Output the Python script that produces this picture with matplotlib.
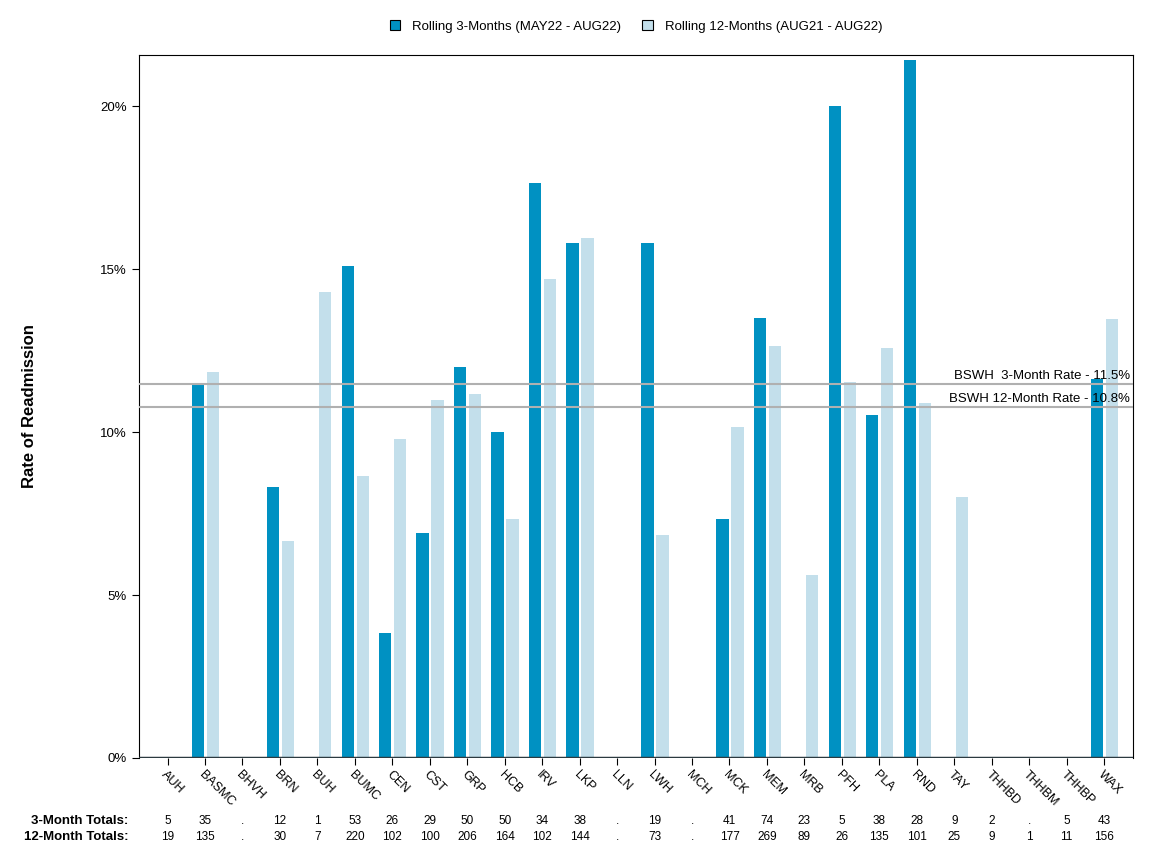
import matplotlib
matplotlib.use("Agg")
import matplotlib.pyplot as plt
import matplotlib.transforms as mtransforms
import numpy as np

plt.rcParams['font.family'] = ['Liberation Sans', 'DejaVu Sans']

# hospitals
sites = ["AUH", "BASMC", "BHVH", "BRN", "BUH", "BUMC", "CEN", "CST", "GRP", "HCB",
         "IRV", "LKP", "LLN", "LWH", "MCH", "MCK", "MEM", "MRB", "PFH", "PLA",
         "RND", "TAY", "THHBD", "THHBM", "THHBP", "WAX"]

# readmission rate (%)
rate_3m = [0, 11.43, 0, 8.33, 0, 15.09, 3.85, 6.90, 12.00, 10.00,
           17.65, 15.79, 0, 15.79, 0, 7.32, 13.51, 0, 20.00, 10.53,
           21.43, 0, 0, 0, 0, 11.63]
rate_12m = [0, 11.85, 0, 6.67, 14.29, 8.64, 9.80, 11.00, 11.17, 7.32,
            14.71, 15.97, 0, 6.85, 0, 10.17, 12.64, 5.62, 11.54, 12.59,
            10.89, 8.00, 0, 0, 0, 13.46]

totals_3m = ["5", "35", ".", "12", "1", "53", "26", "29", "50", "50",
             "34", "38", ".", "19", ".", "41", "74", "23", "5", "38",
             "28", "9", "2", ".", "5", "43"]
totals_12m = ["19", "135", ".", "30", "7", "220", "102", "100", "206", "164",
              "102", "144", ".", "73", ".", "177", "269", "89", "26", "135",
              "101", "25", "9", "1", "11", "156"]

bswh_3m = 11.48
bswh_12m = 10.77

dark = "#0091c2"
light = "#c3dfeb"

fig = plt.figure(figsize=(11.52, 8.64), dpi=100)
ax = fig.add_axes([0.1207, 0.1227, 0.8628, 0.8136])

x = np.arange(len(sites))
w = 0.33
ax.bar(x - 0.19, rate_3m, w, color=dark, label="Rolling 3-Months (MAY22 - AUG22)", zorder=2)
ax.bar(x + 0.21, rate_12m, w, color=light, label="Rolling 12-Months (AUG21 - AUG22)", zorder=2)

# system-wide reference lines
ax.axhline(bswh_3m, color="#b0b0b0", lw=1.5, zorder=3)
ax.axhline(bswh_12m, color="#b0b0b0", lw=1.5, zorder=3)
ax.text(25.7, bswh_3m + 0.06, "BSWH  3-Month Rate - 11.5%", ha="right", va="bottom",
        fontsize=9.5, zorder=4)
ax.text(25.7, bswh_12m + 0.06, "BSWH 12-Month Rate - 10.8%", ha="right", va="bottom",
        fontsize=9.5, zorder=4)
ax.axhline(0, color="#2b3a40", lw=2.5, zorder=4)

ax.set_xlim(-0.76, 25.77)
ax.set_ylim(0, 21.57)
ax.set_yticks([0, 5, 10, 15, 20])
ax.set_yticklabels(["0%", "5%", "10%", "15%", "20%"], fontsize=9.5)
ax.set_xticks(x)
ax.set_xticklabels([])
ax.tick_params(axis="x", length=5)
ax.tick_params(axis="y", length=5, pad=4)
ax.spines["bottom"].set_visible(False)

# rotated site names, drawn just below each tick
lab_trans = ax.get_xaxis_transform() + mtransforms.ScaledTranslation(-0.04, -0.15, fig.dpi_scale_trans)
for i in range(len(sites)):
    ax.text(x[i], 0, sites[i], transform=lab_trans, rotation=-45, ha="left", va="center",
            rotation_mode="anchor", fontsize=9)

ax.set_ylabel("Rate of Readmission", fontsize=12, fontweight="bold")
ax.yaxis.set_label_coords(-0.103, 0.5)

ax.legend(loc="lower center", bbox_to_anchor=(0.5, 1.015), ncol=2, frameon=False,
          fontsize=9.5, handlelength=0.8, handleheight=0.8, columnspacing=1.6,
          handletextpad=0.9)
for h in ax.get_legend().legend_handles:
    h.set_edgecolor("black")
    h.set_linewidth(0.8)

# totals table below the axis
trans = mtransforms.blended_transform_factory(ax.transData, fig.transFigure)
y3 = 1 - 821 / 864
y12 = 1 - 837 / 864
fig.text(128 / 1152, y3, "3-Month Totals:", ha="right", va="center", fontsize=9.5,
         fontweight="bold")
fig.text(128 / 1152, y12, "12-Month Totals:", ha="right", va="center", fontsize=9.5,
         fontweight="bold")
for i in range(len(sites)):
    ax.text(x[i], y3, totals_3m[i], transform=trans, ha="center", va="center", fontsize=8.5)
    ax.text(x[i], y12, totals_12m[i], transform=trans, ha="center", va="center", fontsize=8.5)

fig.savefig("out.png", dpi=100)
